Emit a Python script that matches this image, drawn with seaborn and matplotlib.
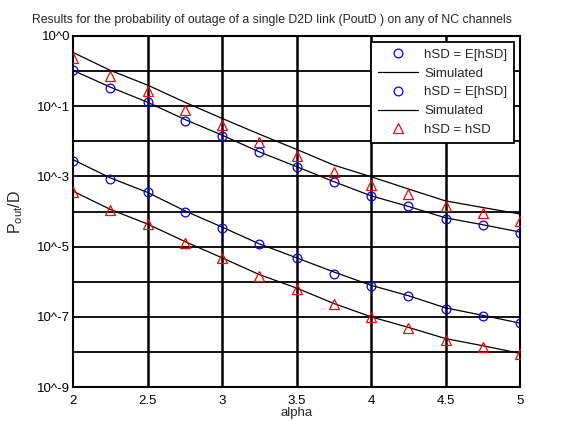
import seaborn as sns
import matplotlib.pyplot as plt
from matplotlib.lines import Line2D
import numpy as np

alpha = [2.0, 2.25, 2.5, 2.75, 3.0, 3.25, 3.5, 3.75, 4.0, 4.25, 4.5, 4.75, 5.0]

# analytic points, hSD = E[hSD] (blue circles)
circ_top = [1.05e-1, 3.4e-2, 1.3e-2, 3.9e-3, 1.45e-3, 4.8e-4, 1.85e-4, 6.8e-5, 2.75e-5, 1.4e-5, 6.3e-6, 4.2e-6, 2.5e-6]
circ_low = [2.75e-4, 8.7e-5, 3.5e-5, 9.5e-6, 3.5e-6, 1.15e-6, 4.7e-7, 1.65e-7, 7.6e-8, 3.8e-8, 1.65e-8, 1.05e-8, 6.5e-9]
# hSD = hSD (red triangles)
tri_top = [2.3e-1, 7.2e-2, 2.8e-2, 7.9e-3, 2.9e-3, 9.5e-4, 3.8e-4, 1.35e-4, 5.6e-5, 3.2e-5, 1.4e-5, 8.9e-6, 5.4e-6]
tri_low = [3.5e-5, 1.1e-5, 4.3e-6, 1.3e-6, 4.8e-7, 1.5e-7, 6.3e-8, 2.3e-8, 9.8e-9, 4.7e-9, 2.2e-9, 1.4e-9, 8.5e-10]
# simulated curves
sim_1 = [3.4e-1, 1.05e-1, 4.0e-2, 1.3e-2, 4.5e-3, 1.6e-3, 5.9e-4, 2.1e-4, 9.8e-5, 4.4e-5, 2.0e-5, 1.3e-5, 8.5e-6]
sim_2 = [1.05e-1, 3.5e-2, 1.3e-2, 4.2e-3, 1.5e-3, 5.0e-4, 1.9e-4, 7.1e-5, 2.8e-5, 1.4e-5, 6.6e-6, 4.2e-6, 2.6e-6]
sim_3 = [3.0e-4, 9.1e-5, 3.5e-5, 1.05e-5, 3.6e-6, 1.2e-6, 4.8e-7, 1.9e-7, 7.9e-8, 4.0e-8, 1.8e-8, 1.1e-8, 6.6e-9]
sim_4 = [3.8e-5, 1.15e-5, 4.4e-6, 1.4e-6, 4.8e-7, 1.6e-7, 6.6e-8, 2.4e-8, 1.0e-8, 5.0e-9, 2.4e-9, 1.5e-9, 9.1e-10]

ytick_vals = [1e0, 1e-1, 1e-2, 1e-3, 1e-4, 1e-5, 1e-6, 1e-7, 1e-8, 1e-9, 1e-10]
ytick_labels = ['10^0', '', '10^-1', '', '10^-3', '', '10^-5', '', '10^-7', '', '10^-9']
xticks = [2, 2.5, 3, 3.5, 4, 4.5, 5]
xtick_labels = ['2', '2.5', '3', '3.5', '4', '4.5', '5']

sns.set_style('white')
plt.rcParams['font.family'] = ['Liberation Sans', 'DejaVu Sans']
plt.rcParams['mathtext.fontset'] = 'custom'
plt.rcParams['mathtext.rm'] = 'Liberation Sans'

fig = plt.figure(figsize=(5.66, 4.21), dpi=100)
ax = fig.add_axes([73/566, 34/421, 447/566, 351/421])

for s in [sim_1, sim_2, sim_3, sim_4]:
    sns.lineplot(x=alpha, y=s, color='black', linewidth=0.9, ax=ax, zorder=3)
for s in [circ_top, circ_low]:
    sns.lineplot(x=alpha, y=s, color='blue', linestyle='', marker='o', markersize=6.3,
                 markerfacecolor='none', markeredgecolor='blue', markeredgewidth=0.9, ax=ax, zorder=4)
for s in [tri_top, tri_low]:
    sns.lineplot(x=alpha, y=s, color='red', linestyle='', marker='^', markersize=7,
                 markerfacecolor='none', markeredgecolor='red', markeredgewidth=0.9, ax=ax, zorder=4)

ax.set_yscale('log')
ax.set_ylim(1e-10, 1e0)
ax.set_xlim(2, 5)
ax.set_yticks(ytick_vals)
ax.set_yticklabels(ytick_labels)
ax.minorticks_off()
ax.set_xticks(xticks)
ax.set_xticklabels(xtick_labels)
ax.tick_params(length=0, labelsize=9.5, colors='black')
ax.tick_params(axis='x', pad=6)
ax.tick_params(axis='y', pad=2)

ax.grid(False)
for xv in xticks[1:-1]:
    ax.axvline(xv, color='black', linewidth=1.8, zorder=1)
for yv in ytick_vals[1:-1]:
    ax.axhline(yv, color='black', linewidth=1.3, zorder=1)

for sp in ax.spines.values():
    sp.set_color('black')
    sp.set_linewidth(1.5)

ax.set_xlabel('alpha', fontsize=9.5)
ax.xaxis.set_label_coords(0.5, -0.058)
ax.set_ylabel(r'P$_\mathregular{out}$/D', fontsize=11.5)
ax.yaxis.set_label_coords(-0.107, 0.5)

fig.text(272/566, 1 - 20/421, 'Results for the probability of outage of a single D2D link (PoutD ) on any of NC channels',
         ha='center', va='center', fontsize=8.85)

handles = [
    Line2D([], [], linestyle='', marker='o', markersize=6.3, markerfacecolor='none', markeredgecolor='blue', markeredgewidth=0.9),
    Line2D([], [], color='black', linewidth=0.9),
    Line2D([], [], linestyle='', marker='o', markersize=6.3, markerfacecolor='none', markeredgecolor='blue', markeredgewidth=0.9),
    Line2D([], [], color='black', linewidth=0.9),
    Line2D([], [], linestyle='', marker='^', markersize=7, markerfacecolor='none', markeredgecolor='red', markeredgewidth=0.9),
]
labels = ['hSD = E[hSD]', 'Simulated', 'hSD = E[hSD]', 'Simulated', 'hSD = hSD']
leg = ax.legend(handles, labels, loc='upper right', fontsize=9.5, frameon=True, fancybox=False,
                framealpha=1, edgecolor='black', handlelength=3.1, handletextpad=0.45,
                labelspacing=0.5, borderpad=0.5, borderaxespad=0.45)
leg.get_frame().set_linewidth(1.3)
leg.set_zorder(10)

fig.savefig('out.png', dpi=100)
